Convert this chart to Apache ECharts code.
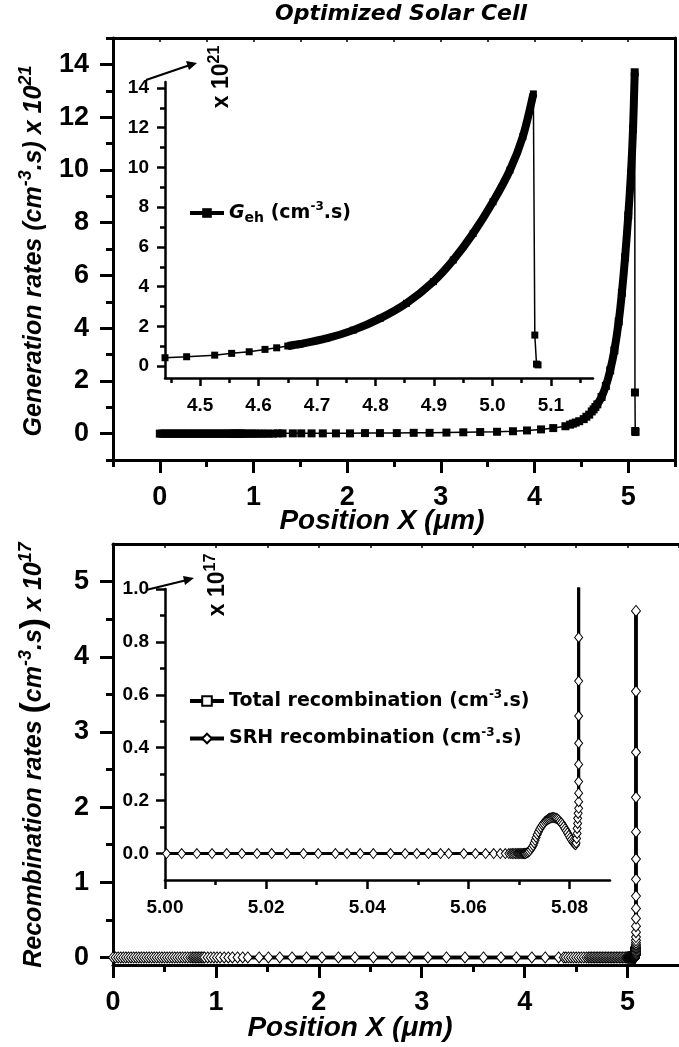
<!DOCTYPE html>
<html><head><meta charset="utf-8">
<script src="https://cdn.jsdelivr.net/npm/echarts@6/dist/echarts.min.js"></script>
<style>html,body{margin:0;padding:0;background:#fff}#c{width:679px;height:1047px}</style>
</head><body><div id="c"></div>
<script>
// ---------- data ----------
// shared coarse mesh of positions (µm)
const positions = [
  0, 0.025, 0.05, 0.075, 0.1, 0.125, 0.15, 0.175, 0.2, 0.225,
  0.25, 0.275, 0.3, 0.325, 0.35, 0.375, 0.4, 0.425, 0.45, 0.475,
  0.5, 0.525, 0.55, 0.575, 0.6, 0.625, 0.65, 0.675, 0.7, 0.725,
  0.75, 0.77, 0.785, 0.8, 0.815, 0.83, 0.845, 0.86, 0.875, 0.89,
  0.92, 0.95, 0.98, 1.01, 1.04, 1.08, 1.12, 1.16, 1.21, 1.26,
  1.31, 1.42, 1.51, 1.62, 1.74, 1.88, 2.03, 2.19, 2.35, 2.53,
  2.71, 2.88, 3.06, 3.24, 3.42, 3.60, 3.77, 3.92, 4.07, 4.20,
  4.33
];
// generation rate on the coarse mesh (x 10^21 cm^-3 s^-1)
const generation = [
  0, 0, 0, 0, 0, 0, 0, 0, 0, 0,
  0, 0, 0, 0, 0, 0, 0, 0, 0, 0,
  0, 0, 0, 0, 0, 0, 0, 0, 0, 0,
  0, 0, 0, 0, 0, 0, 0, 0, 0, 0,
  0, 0, 0, 0, 0, 0, 0, 0, 0, 0.01,
  0.01, 0.01, 0.01, 0.01, 0.01, 0.01, 0.01, 0.02, 0.02, 0.02,
  0.03, 0.03, 0.04, 0.05, 0.06, 0.07, 0.09, 0.12, 0.16, 0.21,
  0.28
];
// recombination rate on the coarse mesh (x 10^17 cm^-3 s^-1)
const recombination = [
  0, 0, 0, 0, 0, 0, 0, 0, 0, 0,
  0, 0, 0, 0, 0, 0, 0, 0, 0, 0,
  0, 0, 0, 0, 0, 0, 0, 0, 0, 0,
  0, 0, 0, 0, 0, 0, 0, 0, 0, 0,
  0, 0, 0, 0, 0, 0, 0, 0, 0, 0,
  0, 0, 0, 0, 0, 0, 0, 0, 0, 0,
  0, 0, 0, 0, 0, 0, 0, 0, 0, 0,
  0
];
// generation near the front surface [x, G]
const genTail = [
  [4.38, 0.34], [4.41, 0.38], [4.44, 0.42], [4.477, 0.47], [4.525, 0.55],
  [4.554, 0.64], [4.584, 0.72], [4.611, 0.84], [4.631, 0.92], [4.650, 1.01],
  [4.671, 1.11], [4.716, 1.39], [4.762, 1.81], [4.808, 2.40], [4.853, 3.16],
  [4.899, 4.25], [4.933, 5.34], [4.967, 6.68], [5.001, 8.27], [5.030, 9.87],
  [5.052, 11.55], [5.070, 13.70], [5.0725, 1.56], [5.0754, 0.10], [5.078, 0.06]
];
// recombination near the front surface [x, R]
const recTail = [
  [4.38, 0], [4.40, 0], [4.425, 0], [4.45, 0], [4.475, 0], [4.50, 0], [4.525, 0], [4.55, 0], [4.575, 0], [4.60, 0], [4.62, 0],
  [4.635, 0], [4.65, 0], [4.665, 0], [4.68, 0], [4.695, 0], [4.71, 0], [4.725, 0], [4.74, 0], [4.755, 0], [4.77, 0],
  [4.785, 0], [4.80, 0], [4.815, 0], [4.83, 0], [4.845, 0], [4.86, 0], [4.875, 0], [4.89, 0], [4.905, 0], [4.92, 0],
  [4.935, 0], [4.95, 0], [4.965, 0], [4.98, 0], [4.99, 0],
  [5.0003, 0], [5.0033, 0], [5.0063, 0], [5.0093, 0], [5.0122, 0], [5.0152, 0], [5.0182, 0], [5.0211, 0], [5.0241, 0], [5.0274, 0],
  [5.0303, 0], [5.0337, 0], [5.0360, 0], [5.0386, 0], [5.0412, 0], [5.0446, 0], [5.0475, 0], [5.0498, 0], [5.0521, 0], [5.0545, 0],
  [5.0561, 0], [5.0591, 0], [5.0614, 0], [5.0634, 0], [5.0650, 0], [5.0663, 0], [5.0673, 0], [5.0680, 0], [5.0684, 0], [5.0687, 0],
  [5.0690, 0], [5.0693, 0], [5.0696, 0], [5.0698, 0], [5.0700, 0], [5.0702, 0], [5.0704, 0], [5.0706, 0], [5.0708, 0], [5.0709, 0],
  [5.0710, 0], [5.0711, 0], [5.0712, 0], [5.0713, 0],
  [5.07155, 0.002], [5.0718, 0.005], [5.07205, 0.009], [5.0723, 0.015], [5.07255, 0.022], [5.0728, 0.030], [5.0730, 0.040],
  [5.0732, 0.050], [5.0734, 0.061], [5.0736, 0.072], [5.07385, 0.082], [5.0741, 0.092], [5.07435, 0.100], [5.0746, 0.108],
  [5.07485, 0.114], [5.0751, 0.120], [5.07535, 0.124], [5.0756, 0.128], [5.07585, 0.131], [5.0761, 0.133], [5.07635, 0.135],
  [5.0766, 0.136], [5.07685, 0.136], [5.0771, 0.135], [5.07735, 0.133], [5.0776, 0.131], [5.07785, 0.127], [5.0781, 0.122],
  [5.07835, 0.116], [5.0786, 0.110], [5.07885, 0.102], [5.0791, 0.094], [5.07935, 0.086], [5.0796, 0.078], [5.07985, 0.069],
  [5.0801, 0.060], [5.08035, 0.052], [5.0806, 0.045], [5.0808, 0.040], [5.0810, 0.036], [5.0812, 0.033],
  [5.0813, 0.040], [5.0814, 0.057], [5.0815, 0.076], [5.0815, 0.095], [5.0816, 0.114], [5.0816, 0.133], [5.0817, 0.152],
  [5.0818, 0.171], [5.0818, 0.196], [5.0818, 0.228], [5.0818, 0.272], [5.0818, 0.337], [5.0818, 0.417], [5.0818, 0.52],
  [5.0818, 0.652], [5.0818, 0.817], [5.0818, 1.04], [5.0818, 1.31], [5.0818, 1.67], [5.0818, 2.13], [5.0818, 2.73],
  [5.0818, 3.54], [5.0818, 4.61]
];
// tick values
const topMainXTicks = [0, 1, 2, 3, 4, 5];
const topMainXMinor = [-0.5, 0.5, 1.5, 2.5, 3.5, 4.5, 5.5];
const topMainYTicks = [0, 2, 4, 6, 8, 10, 12, 14];
const topMainYMinor = [-1, 1, 3, 5, 7, 9, 11, 13, 15];
const halfSteps = [-0.5, 0, 0.5, 1, 1.5, 2, 2.5, 3, 3.5, 4, 4.5, 5, 5.5];
const topInsetXTicks = [4.5, 4.6, 4.7, 4.8, 4.9, 5.0, 5.1];
const topInsetXMinor = [4.45, 4.55, 4.65, 4.75, 4.85, 4.95, 5.05, 5.15];
const topInsetYTicks = [0, 2, 4, 6, 8, 10, 12, 14];
const topInsetYMinor = [1, 3, 5, 7, 9, 11, 13];
const botMainXTicks = [0, 1, 2, 3, 4, 5];
const botMainXMinor = [0.5, 1.5, 2.5, 3.5, 4.5];
const botMainYTicks = [0, 1, 2, 3, 4, 5];
const botMainYMinor = [0.5, 1.5, 2.5, 3.5, 4.5];
const botInsetXTicks = [5.00, 5.02, 5.04, 5.06, 5.08];
const botInsetXMinor = [5.01, 5.03, 5.05, 5.07];
const botInsetYTicks = [0, 0.2, 0.4, 0.6, 0.8, 1.0];
const botInsetYMinor = [0.1, 0.3, 0.5, 0.7, 0.9];

// ---------- build ----------
const genAll = positions.map((x, i) => [x, generation[i]]).concat(genTail);
const genBand = genAll.filter(p => p[0] >= 4.65 && p[0] <= 5.07);
const recAll = positions.map((x, i) => [x, recombination[i]]).concat(recTail);

const AX = '"Liberation Sans", Arial, sans-serif';
const DJ = '"DejaVu Sans", sans-serif';
const K = '#000';

function majorAxis(grid, pos, min, max, ticks, len, lw, fs, margin, fmt, showLine) {
  return {
    type: 'value', gridIndex: grid, position: pos, min: min, max: max,
    splitLine: {show: false},
    axisLine: {show: showLine !== false, onZero: false, lineStyle: {color: K, width: lw}},
    axisTick: {show: true, customValues: ticks, length: len, lineStyle: {color: K, width: lw}},
    axisLabel: {show: true, customValues: ticks, margin: margin, color: K, fontFamily: AX,
      fontWeight: 'bold', fontSize: fs, formatter: fmt || (v => String(v))}
  };
}
function minorAxis(grid, pos, min, max, ticks, len, lw, inside, showLine) {
  return {
    type: 'value', gridIndex: grid, position: pos, min: min, max: max,
    splitLine: {show: false},
    axisLine: {show: !!showLine, onZero: false, lineStyle: {color: K, width: 3}},
    axisTick: {show: ticks.length > 0, inside: !!inside, customValues: ticks, length: len, lineStyle: {color: K, width: lw}},
    axisLabel: {show: false}
  };
}

const xAxis = [
  majorAxis(0, 'bottom', -0.5, 5.5, topMainXTicks, 13, 3, 27, 24),
  minorAxis(0, 'bottom', -0.5, 5.5, topMainXMinor, 7, 3),
  minorAxis(0, 'top', -0.5, 5.5, halfSteps, 4, 1.5, true, true),
  majorAxis(1, 'bottom', 4.44, 5.172, topInsetXTicks, 8, 2.5, 19, 18, v => v.toFixed(1)),
  minorAxis(1, 'bottom', 4.44, 5.172, topInsetXMinor, 5, 2.5),
  majorAxis(2, 'bottom', 0, 5.5, botMainXTicks, 13, 3, 27, 24),
  minorAxis(2, 'bottom', 0, 5.5, botMainXMinor, 7, 3),
  minorAxis(2, 'top', 0, 5.5, halfSteps.filter(v => v >= 0), 4, 1.5, true, true),
  majorAxis(3, 'bottom', 5.0, 5.088, botInsetXTicks, 9, 2.5, 19, 18, v => v.toFixed(2)),
  minorAxis(3, 'bottom', 5.0, 5.088, botInsetXMinor, 5, 2.5)
];
const yAxis = [
  majorAxis(0, 'left', -1, 15, topMainYTicks, 13, 3, 27, 24),
  minorAxis(0, 'left', -1, 15, topMainYMinor, 7, 3),
  minorAxis(0, 'right', -1, 15, [], 0, 3, false, true),
  majorAxis(1, 'left', -0.6, 14.3, topInsetYTicks, 8, 2.5, 19, 16),
  minorAxis(1, 'left', -0.6, 14.3, topInsetYMinor, 5, 2.5),
  majorAxis(2, 'left', -0.1, 5.5, botMainYTicks, 13, 3, 27, 24),
  minorAxis(2, 'left', -0.1, 5.5, botMainYMinor, 7, 3),
  majorAxis(3, 'left', -0.1, 1.0, botInsetYTicks, 9, 2.5, 19, 16, v => v.toFixed(1)),
  minorAxis(3, 'left', -0.1, 1.0, botInsetYMinor, 5, 2.5)
];

function genSeries(xi, yi, size) {
  return [
    {type: 'line', name: 'band', xAxisIndex: xi, yAxisIndex: yi, data: genBand, showSymbol: false,
      symbol: 'none', smooth: 0.3, lineStyle: {color: K, width: 8}, silent: true, z: 2},
    {type: 'line', name: 'Geh', xAxisIndex: xi, yAxisIndex: yi, data: genAll, symbol: 'rect', symbolSize: size,
      itemStyle: {color: K}, lineStyle: {color: K, width: 1.5}, z: 3}
  ];
}
function recSeries(xi, yi, size, lw) {
  return [
    {type: 'line', name: 'Total recombination', xAxisIndex: xi, yAxisIndex: yi, data: recAll, symbol: 'rect',
      showSymbol: false, symbolSize: 10, itemStyle: {color: '#fff', borderColor: K, borderWidth: 1},
      lineStyle: {color: K, width: lw}, z: 2},
    {type: 'line', name: 'SRH recombination', xAxisIndex: xi, yAxisIndex: yi, data: recAll, symbol: 'diamond',
      symbolSize: size, itemStyle: {color: '#fff', borderColor: K, borderWidth: 1},
      lineStyle: {color: K, width: lw}, z: 3}
  ];
}

const supLegend = {fontSize: 12, fontFamily: DJ, fontWeight: 'bold', color: K, padding: [0, 0, 12, 0]};
const option = {
  animation: false,
  backgroundColor: '#fff',
  grid: [
    {left: 113, top: 38, width: 562, height: 422},
    {left: 165, top: 82, width: 428, height: 296},
    {left: 113, top: 544, width: 573, height: 421},
    {left: 165, top: 589, width: 445, height: 291}
  ],
  xAxis: xAxis,
  yAxis: yAxis,
  legend: [
    {data: ['Geh'], left: 183, top: 196, orient: 'vertical', selectedMode: false, itemWidth: 34, itemHeight: 12,
      lineStyle: {width: 4},
      formatter: () => '{g|G}{sub|eh}{n| (cm}{sup|-3}{n|.s)}',
      textStyle: {color: K, fontFamily: DJ, fontWeight: 'bold', fontSize: 19,
        rich: {
          g: {fontSize: 19, fontFamily: DJ, fontWeight: 'bold', fontStyle: 'italic', color: K},
          sub: {fontSize: 14, fontFamily: DJ, fontWeight: 'bold', color: K, padding: [10, 0, 0, 0]},
          n: {fontSize: 19, fontFamily: DJ, fontWeight: 'bold', color: K},
          sup: supLegend
        }}},
    {data: ['Total recombination', 'SRH recombination'], left: 183, top: 684, orient: 'vertical', itemGap: 16,
      selectedMode: false, itemWidth: 34, itemHeight: 12, lineStyle: {width: 4},
      formatter: name => '{n|' + name + ' (cm}{sup|-3}{n|.s)}',
      textStyle: {color: K, fontFamily: DJ, fontWeight: 'bold', fontSize: 19,
        rich: {
          n: {fontSize: 19, fontFamily: DJ, fontWeight: 'bold', color: K},
          sup: supLegend
        }}}
  ],
  series: [].concat(
    genSeries(0, 0, 8),
    genSeries(3, 3, 7),
    recSeries(5, 5, [9, 11], 3.5),
    recSeries(8, 7, [8, 10], 3)
  ),
  graphic: [
    {type: 'text', x: 401, y: 14, style: {text: 'Optimized Solar Cell', fill: K,
      font: 'italic bold 22px ' + DJ, align: 'center', verticalAlign: 'middle'}},
    {type: 'text', x: 382, y: 521, style: {text: 'Position X (\u03bcm)', fill: K,
      font: 'italic bold 28px ' + AX, align: 'center', verticalAlign: 'middle'}},
    {type: 'text', x: 350, y: 1028, style: {text: 'Position X (\u03bcm)', fill: K,
      font: 'italic bold 28px ' + AX, align: 'center', verticalAlign: 'middle'}},
    {type: 'text', x: 34, y: 251, rotation: Math.PI / 2, style: {
      text: '{t|Generation rates (cm}{s|-3}{t|.s) x 10}{s|21}', align: 'center', verticalAlign: 'middle',
      rich: {
        t: {fill: K, fontFamily: AX, fontSize: 25, fontWeight: 'bold', fontStyle: 'italic'},
        s: {fill: K, fontFamily: AX, fontSize: 18, fontWeight: 'bold', fontStyle: 'italic', padding: [0, 0, 16, 0]}
      }}},
    {type: 'text', x: 34, y: 755, rotation: Math.PI / 2, style: {
      text: '{t|Recombination rates }{p|(}{t|cm}{s|-3}{t|.s}{p|)}{t| x 10}{s|17}', align: 'center', verticalAlign: 'middle',
      rich: {
        t: {fill: K, fontFamily: AX, fontSize: 25, fontWeight: 'bold', fontStyle: 'italic'},
        p: {fill: K, fontFamily: AX, fontSize: 34, fontWeight: 'bold'},
        s: {fill: K, fontFamily: AX, fontSize: 18, fontWeight: 'bold', fontStyle: 'italic', padding: [0, 0, 16, 0]}
      }}},
    {type: 'text', x: 222, y: 77, rotation: Math.PI / 2, style: {
      text: '{t|x 10}{s|21}', align: 'center', verticalAlign: 'middle',
      rich: {
        t: {fill: K, fontFamily: AX, fontSize: 23, fontWeight: 'bold'},
        s: {fill: K, fontFamily: AX, fontSize: 16, fontWeight: 'bold', padding: [0, 0, 14, 0]}
      }}},
    {type: 'text', x: 218, y: 585, rotation: Math.PI / 2, style: {
      text: '{t|x 10}{s|17}', align: 'center', verticalAlign: 'middle',
      rich: {
        t: {fill: K, fontFamily: AX, fontSize: 23, fontWeight: 'bold'},
        s: {fill: K, fontFamily: AX, fontSize: 16, fontWeight: 'bold', padding: [0, 0, 14, 0]}
      }}},
    {type: 'line', shape: {x1: 146, y1: 80, x2: 190, y2: 65}, style: {stroke: K, lineWidth: 2}},
    {type: 'polygon', shape: {points: [[197, 63], [186, 61], [189, 70]]}, style: {fill: K}},
    {type: 'line', shape: {x1: 146, y1: 590, x2: 187, y2: 580}, style: {stroke: K, lineWidth: 2}},
    {type: 'polygon', shape: {points: [[194, 578], [183, 576], [185, 585]]}, style: {fill: K}}
  ]
};
const chart = echarts.init(document.getElementById('c'), null, {renderer: 'canvas'});
chart.setOption(option);
</script>
</body></html>
